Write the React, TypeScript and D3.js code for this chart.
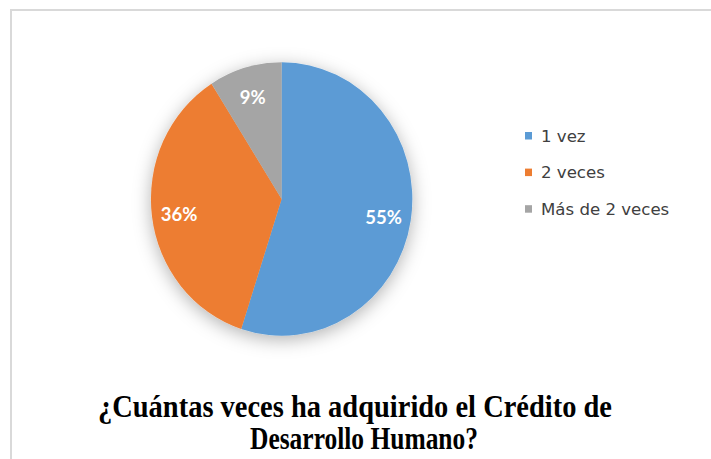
import React from "react";
import * as d3 from "d3";

const categories = ["1 vez", "2 veces", "Más de 2 veces"];
const values = [55, 36, 9];
const colors = ["#5B9BD5", "#ED7D31", "#A5A5A5"];
const titleLines = ["¿Cuántas veces ha adquirido el Crédito de", "Desarrollo Humano?"];

const W = 711;
const H = 459;
const cx = 281.6;
const cy = 199;
const rx = 130.7;
const ry = 136.7;

export default function App() {
  const pie = d3.pie<number>().sort(null).value((d) => d)(values);
  const arc = d3.arc<d3.PieArcDatum<number>>().innerRadius(0).outerRadius(1);
  const labelArc = d3.arc<d3.PieArcDatum<number>>().innerRadius(0.79).outerRadius(0.79);

  return (
    <svg
      width={W}
      height={H}
      style={{ position: "absolute", left: 0, top: 0, background: "#fff" }}
    >
      <defs>
        <filter id="sh" x="-30%" y="-30%" width="160%" height="160%">
          <feDropShadow dx="0" dy="4" stdDeviation="9" floodColor="#000" floodOpacity="0.3" />
        </filter>
      </defs>
      <rect x={11} y={10} width={W + 10} height={H + 10} fill="#fff" stroke="#d9d9d9" strokeWidth={2} />
      <g transform={`translate(${cx},${cy})`}>
        <g filter="url(#sh)">
          <g transform={`scale(${rx},${ry})`}>
            {pie.map((p, i) => (
              <path key={i} d={arc(p) as string} fill={colors[i]} />
            ))}
          </g>
        </g>
        {pie.map((p, i) => {
          const [lx, ly] = labelArc.centroid(p);
          return (
            <text
              key={i}
              x={lx * rx}
              y={ly * ry + 1.5}
              textAnchor="middle"
              dominantBaseline="central"
              fill="#fff"
              fontFamily="Lato, 'Open Sans', sans-serif"
              fontWeight="bold"
              fontSize={18.5}
            >
              {values[i]}%
            </text>
          );
        })}
      </g>
      <g>
        {categories.map((c, i) => (
          <g key={c} transform={`translate(525,${132 + i * 36.6})`}>
            <rect x={0} y={0} width={7} height={7.5} fill={colors[i]} />
            <text
              x={16}
              y={4}
              dominantBaseline="central"
              fill="#404040"
              fontFamily="'DejaVu Sans', sans-serif"
              fontSize={16.6}
            >
              {c}
            </text>
          </g>
        ))}
      </g>
      <g fontFamily="'Liberation Serif', 'Times New Roman', serif" fontWeight="bold" fill="#000">
        <text x={98} y={417} fontSize={31} textLength={514} lengthAdjust="spacingAndGlyphs">
          {titleLines[0]}
        </text>
        <text x={250} y={449} fontSize={31} textLength={228} lengthAdjust="spacingAndGlyphs">
          {titleLines[1]}
        </text>
      </g>
    </svg>
  );
}
